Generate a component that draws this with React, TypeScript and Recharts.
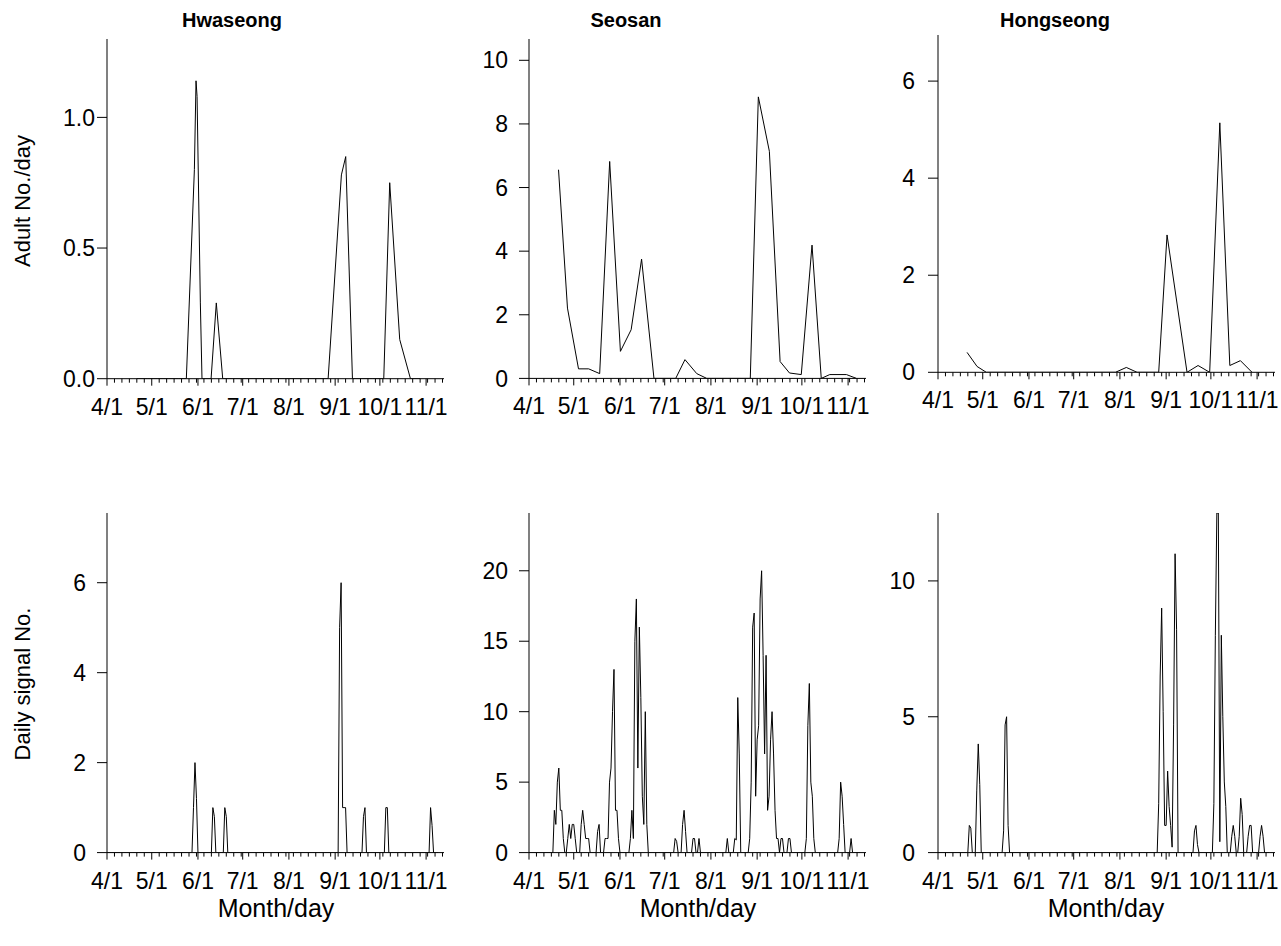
import { LineChart, Line, XAxis, YAxis } from 'recharts';

const FONT = '"Liberation Sans", Arial, Helvetica, sans-serif';

// x values are days counted from 4/1
const monthTicks = [0, 30, 61, 91, 122, 153, 183, 214];
const monthLabels = ['4/1', '5/1', '6/1', '7/1', '8/1', '9/1', '10/1', '11/1'];
const minorTicks = [
  0, 5, 10, 15, 20, 25, 30, 35, 40, 45, 50, 55, 60, 65, 70, 75, 80, 85, 90, 95, 100, 105, 110,
  115, 120, 125, 130, 135, 140, 145, 150, 155, 160, 165, 170, 175, 180, 185, 190, 195, 200, 205,
  210, 215, 220, 225,
];
const allTicks = Array.from(new Set([...minorTicks, ...monthTicks])).sort((a, b) => a - b);

// adult catches (top row)
const hwaAdultDays = [20, 27, 34, 41, 48, 53.2, 58.6, 59.7, 60.4, 62.6, 63.7, 69.8, 73.3, 77.6, 84, 91, 98, 105, 112, 119, 126, 133, 140, 148.3, 157.2, 160.1, 164.6, 171, 178, 185.6, 189.6, 196.3, 203.5, 210];
const hwaAdultVals = [0, 0, 0, 0, 0, 0, 0.8, 1.14, 1.08, 0.29, 0, 0, 0.29, 0, 0, 0, 0, 0, 0, 0, 0, 0, 0, 0, 0.78, 0.85, 0, 0, 0, 0, 0.75, 0.15, 0, 0];

const seoAdultDays = [19.8, 25.8, 33.2, 40, 47.4, 54.1, 61.3, 68.5, 75.5, 83.8, 90.5, 98.4, 104.6, 112.5, 119.2, 126, 133, 140, 148.4, 153.8, 161.2, 168.4, 174.7, 182.6, 189.8, 196, 201.7, 212.9, 219.6];
const seoAdultVals = [6.56, 2.21, 0.3, 0.3, 0.15, 6.82, 0.85, 1.53, 3.75, 0, 0, 0, 0.59, 0.15, 0, 0, 0, 0, 0, 8.85, 7.14, 0.53, 0.17, 0.12, 4.19, 0, 0.12, 0.12, 0];

const hongAdultDays = [19.5, 26.2, 32.4, 40, 47, 54, 61, 68, 75, 82, 89, 96, 103, 110, 119, 126.3, 133.5, 140, 148, 153.6, 167, 174.4, 182.2, 189, 195.7, 202.8, 210.6];
const hongAdultVals = [0.41, 0.12, 0, 0, 0, 0, 0, 0, 0, 0, 0, 0, 0, 0, 0, 0.1, 0, 0, 0, 2.83, 0, 0.14, 0, 5.14, 0.14, 0.24, 0];

// daily signals (bottom row): days with signals, every other day of the season is 0
const seasonFirstDay = 0;
const seasonLastDay = 222;

const hwaSignalDays = [58, 59, 60, 71, 72, 79, 80, 156, 157, 158, 159, 160, 172, 173, 187, 188, 217, 218];
const hwaSignalVals = [1, 2, 1.2, 1, 0.8, 1, 0.8, 5, 6, 1, 1, 1, 0.8, 1, 1, 1, 1, 0.6];

const seoSignalDays = [
  17, 18, 19, 20, 21, 22, 23, 26, 27, 28, 29, 30, 31, 35, 36, 37, 38, 39, 40, 46, 47,
  51, 52, 53, 54, 55, 56, 57, 58, 59, 60, 68, 69, 70, 71, 72, 73, 74, 75, 76, 77, 78, 79,
  98, 99, 103, 104, 105, 110, 111, 114, 133, 138, 139, 140, 141,
  148, 149, 150, 151, 152, 153, 154, 155, 156, 157, 158, 159, 160, 161, 162, 163, 164, 165, 166, 167, 169, 170,
  174, 175, 186, 187, 188, 189, 190, 191, 208, 209, 210, 211, 216,
];
const seoSignalVals = [
  3, 2, 5, 6, 3, 3, 1, 1, 2, 1, 2, 2, 1, 2, 3, 2, 1, 1, 1, 1.5, 2,
  1, 1, 1, 5, 6, 10, 13, 3, 3, 1, 1, 3, 1, 15, 18, 6, 16, 11, 4, 2, 10, 2,
  1, 0.8, 2, 3, 1.5, 1, 1, 1, 1, 1, 0.9, 11, 7,
  1, 5, 16, 17, 4, 8, 9, 18, 20, 14, 7, 14, 3, 4, 8, 10, 7, 3, 1, 1, 1, 1,
  1, 1, 1, 9, 12, 5, 4, 1, 1, 5, 4, 2, 1,
];

const hongSignalDays = [
  21, 22, 26, 27, 28, 44, 45, 46, 47,
  148, 149, 150, 151, 152, 153, 154, 155, 156, 157, 158, 159, 160,
  172, 173, 174, 185, 186, 187, 188, 189, 190, 191, 192, 193,
  197, 198, 199, 202, 203, 204, 208, 209, 210, 216, 217, 218,
];
const hongSignalVals = [
  1, 0.9, 2.3, 4, 2.5, 0.8, 4.7, 5, 1,
  1.8, 6.5, 9, 5.2, 1, 1, 3, 1.7, 1, 0.2, 4.7, 11, 8.2,
  0.8, 1, 0.3, 1.8, 8, 12.5, 12.5, 0.4, 8, 5, 2.6, 1.7,
  0.6, 1, 0.6, 0.6, 2, 1.4, 0.6, 1, 1, 0.6, 1, 0.6,
];

type Pt = { day: number; v: number };

const pairUp = (days: number[], vals: number[]): Pt[] => days.map((d, i) => ({ day: d, v: vals[i] }));

const dailySeries = (days: number[], vals: number[]): Pt[] => {
  const out: Pt[] = [];
  for (let d = seasonFirstDay; d <= seasonLastDay; d++) {
    const i = days.indexOf(d);
    out.push({ day: d, v: i >= 0 ? vals[i] : 0 });
  }
  return out;
};

const TICK_FONT = 23;

function DayTick(props: any) {
  const { x, y, payload } = props;
  const idx = monthTicks.indexOf(payload.value);
  const major = idx >= 0;
  return (
    <g>
      <line x1={x} x2={x} y1={y} y2={y + (major ? 7 : 4)} stroke="#000" strokeWidth={1} />
      {major && (
        <text x={x} y={y + 36} textAnchor="middle" fontSize={TICK_FONT} fontFamily={FONT} fill="#000">
          {monthLabels[idx]}
        </text>
      )}
    </g>
  );
}

type PanelProps = {
  data: Pt[];
  left: number;
  top: number;
  plotH: number;
  yMax: number;
  yTicks: number[];
  decimals?: number;
  yTickMargin: number;
};

const ML = 70;
const MT = 10;
const MR = 12;
const XH = 60;
const PLOT_W = 337;

function Panel({ data, left, top, plotH, yMax, yTicks, decimals = 0, yTickMargin }: PanelProps) {
  return (
    <div style={{ position: 'absolute', left: left - ML, top: top - MT }}>
      <LineChart
        width={ML + PLOT_W + MR}
        height={MT + plotH + XH}
        data={data}
        margin={{ top: MT, right: MR, bottom: 0, left: 0 }}
      >
        <XAxis
          dataKey="day"
          type="number"
          domain={[0, 226]}
          ticks={allTicks}
          interval={0}
          tick={<DayTick />}
          tickLine={false}
          tickSize={0}
          tickMargin={0}
          axisLine={{ stroke: '#000', strokeWidth: 1 }}
          height={XH}
          allowDataOverflow
        />
        <YAxis
          type="number"
          domain={[0, yMax]}
          ticks={yTicks}
          interval={0}
          width={ML}
          tickSize={10}
          tickMargin={yTickMargin}
          tick={{ fontSize: TICK_FONT, fill: '#000', fontFamily: FONT }}
          tickLine={{ stroke: '#000', strokeWidth: 1 }}
          axisLine={{ stroke: '#000', strokeWidth: 1 }}
          tickFormatter={(v: number) => v.toFixed(decimals)}
          allowDataOverflow
        />
        <Line
          dataKey="v"
          type="linear"
          stroke="#000"
          strokeWidth={1}
          dot={false}
          activeDot={false}
          isAnimationActive={false}
        />
      </LineChart>
    </div>
  );
}

export default function App() {
  return (
    <div style={{ position: 'absolute', left: 0, top: 0, width: 1281, height: 946, background: '#fff', fontFamily: FONT }}>
      <Panel data={pairUp(hwaAdultDays, hwaAdultVals)} left={106.7} top={39} plotH={339.7} yMax={1.3} yTicks={[0, 0.5, 1]} decimals={1} yTickMargin={2} />
      <Panel data={pairUp(seoAdultDays, seoAdultVals)} left={529} top={39.3} plotH={339.4} yMax={10.67} yTicks={[0, 2, 4, 6, 8, 10]} yTickMargin={11} />
      <Panel data={pairUp(hongAdultDays, hongAdultVals)} left={937.7} top={35} plotH={337.3} yMax={6.95} yTicks={[0, 2, 4, 6]} yTickMargin={13} />
      <Panel data={dailySeries(hwaSignalDays, hwaSignalVals)} left={106.7} top={512.7} plotH={339.6} yMax={7.55} yTicks={[0, 2, 4, 6]} yTickMargin={11} />
      <Panel data={dailySeries(seoSignalDays, seoSignalVals)} left={529} top={512.7} plotH={339.6} yMax={24.1} yTicks={[0, 5, 10, 15, 20]} yTickMargin={11} />
      <Panel data={dailySeries(hongSignalDays, hongSignalVals)} left={937.7} top={512.7} plotH={339.6} yMax={12.5} yTicks={[0, 5, 10]} yTickMargin={13} />

      <svg width={1281} height={946} style={{ position: 'absolute', left: 0, top: 0, pointerEvents: 'none' }}>
        <g fontFamily={FONT} fill="#000">
          <text x={232} y={27} textAnchor="middle" fontSize={20} fontWeight="bold">Hwaseong</text>
          <text x={626} y={27} textAnchor="middle" fontSize={20} fontWeight="bold">Seosan</text>
          <text x={1055} y={27} textAnchor="middle" fontSize={20} fontWeight="bold">Hongseong</text>
          <text x={30} y={201} textAnchor="middle" fontSize={22} transform="rotate(-90 30 201)">Adult No./day</text>
          <text x={30} y={684} textAnchor="middle" fontSize={22} transform="rotate(-90 30 684)">Daily signal No.</text>
          <text x={276} y={917} textAnchor="middle" fontSize={25}>Month/day</text>
          <text x={698} y={917} textAnchor="middle" fontSize={25}>Month/day</text>
          <text x={1106} y={917} textAnchor="middle" fontSize={25}>Month/day</text>
        </g>
      </svg>
    </div>
  );
}
